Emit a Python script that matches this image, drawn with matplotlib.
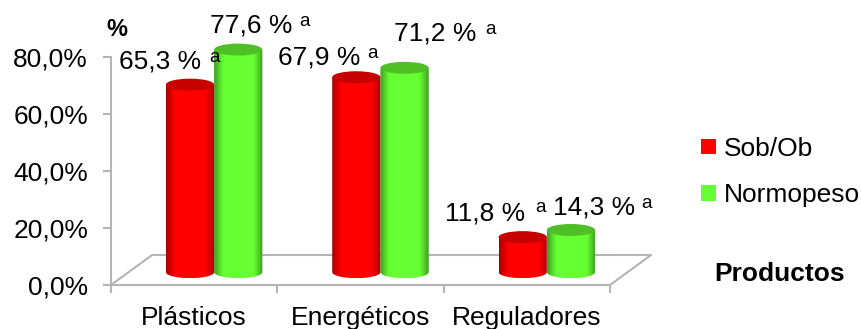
import numpy as np
import matplotlib
matplotlib.use('Agg')
import matplotlib.pyplot as plt
from matplotlib.colors import LinearSegmentedColormap
from matplotlib.patches import Ellipse, Patch, Polygon

plt.rcParams['font.family'] = ['Liberation Sans', 'DejaVu Sans']

W, H = 861, 329

categories = ['Plásticos', 'Energéticos', 'Reguladores']
series_names = ['Sob/Ob', 'Normopeso']
sob_ob = [65.3, 67.9, 11.8]
normopeso = [77.6, 71.2, 14.3]
y_ticks = [0, 20, 40, 60, 80]
y_tick_labels = ['0,0%', '20,0%', '40,0%', '60,0%', '80,0%']
value_labels = ['65,3 %', '67,9 %', '11,8 %', '77,6 %', '71,2 %', '14,3 %']

# left edge / vertical centre of each hand placed value label, in pixels
label_xy = [(119, 62), (278, 57), (445, 214), (210, 26), (394, 33), (553, 207)]
sup_xy = [(214, 57), (372, 53), (540, 208), (305, 22), (490, 29), (647, 203)]

GREY = '#b4b4b4'
FS = 19


def px_fig(x, y):
    return x / W, 1 - y / H


def cylinder(ax, x0, width, base, top, cmap, top_color, zorder):
    """Fake 3D column: gradient body clipped to the outline, plus a top cap"""
    rh = 2.1
    t = np.linspace(np.pi, 2 * np.pi, 40)
    cx = x0 + width / 2
    lower = np.column_stack([cx + width / 2 * np.cos(t), base + rh * np.sin(t)])
    upper = np.array([[x0 + width, top], [x0, top]])
    body = Polygon(np.vstack([lower, upper]), closed=True, fc='none', ec='none',
                   transform=ax.transData, clip_on=False)
    ax.add_patch(body)
    grad = np.abs(np.linspace(-1, 1, 64)).reshape(1, -1) ** 1.5
    im = ax.imshow(grad, extent=(x0, x0 + width, base - rh, top), cmap=cmap,
                   vmin=0, vmax=1, aspect='auto', zorder=zorder, interpolation='bilinear')
    im.set_clip_box(fig.bbox)
    im.set_clip_path(body)
    ax.add_patch(Ellipse((cx, top), width, 2 * rh, fc=top_color, ec='none',
                         zorder=zorder + 0.1, clip_on=False))


fig = plt.figure(figsize=(W / 100, H / 100), dpi=100)
ax = fig.add_axes([111 / W, 1 - 285 / H, (610 - 111) / W, (285 - 57) / H])
ax.patch.set_alpha(0)
ax.set_xlim(0, len(categories))
ax.set_ylim(0, 80)

# floor of the 3D box
depth_x = 41 / 166.3
depth_y = 10.5
n = len(categories)
floor_kw = dict(color=GREY, lw=1.5, clip_on=False, zorder=1, solid_capstyle='round')
ax.plot([0, depth_x], [0, depth_y], **floor_kw)
ax.plot([depth_x, n + depth_x], [depth_y, depth_y], **floor_kw)
ax.plot([n, n + depth_x], [0, depth_y], **floor_kw)

red_map = LinearSegmentedColormap.from_list('r', ['#ff0000', '#ff0000', '#a80000'])
green_map = LinearSegmentedColormap.from_list('g', ['#66ff33', '#66ff33', '#3f9f20'])

bar_w = 0.29
group_pos = np.arange(n) + 0.62
base = 4.5
lift = 5
for i in range(n):
    cylinder(ax, group_pos[i] - bar_w, bar_w, base, sob_ob[i] + lift, red_map, '#c60000', 3)
    cylinder(ax, group_pos[i], bar_w, base, normopeso[i] + lift, green_map, '#4fbf26', 4)
ax.set_xlim(0, n)
ax.set_ylim(0, 80)

for s in ['top', 'right']:
    ax.spines[s].set_visible(False)
for s in ['left', 'bottom']:
    ax.spines[s].set_color(GREY)
    ax.spines[s].set_linewidth(1.5)
ax.set_yticks(y_ticks)
ax.set_yticklabels(y_tick_labels, fontsize=FS, color='black')
ax.set_xticks(range(n + 1))
ax.set_xticklabels([])
ax.set_xticks(np.arange(n) + 0.5, minor=True)
ax.set_xticklabels(categories, minor=True, fontsize=FS)
ax.tick_params(axis='y', color=GREY, width=1.5, length=5.5, pad=11)
ax.tick_params(axis='x', which='major', color=GREY, width=1.5, length=6)
ax.tick_params(axis='x', which='minor', length=0, pad=15)

for text, (x, y) in zip(value_labels, label_xy):
    fx, fy = px_fig(x, y)
    fig.text(fx, fy, text, fontsize=FS, ha='left', va='center')
for x, y in sup_xy:
    fx, fy = px_fig(x, y)
    fig.text(fx, fy, 'a', fontsize=13.5, ha='center', va='center')

fx, fy = px_fig(117, 30)
fig.text(fx, fy, '%', fontsize=17, fontweight='bold', ha='center', va='center')
fx, fy = px_fig(780, 274)
fig.text(fx, fy, 'Productos', fontsize=19, fontweight='bold', ha='center', va='center')

handles = [Patch(fc='#ff0000', ec='none'), Patch(fc='#66ff33', ec='none')]
fig.legend(handles, series_names, loc='center left', bbox_to_anchor=px_fig(701, 172),
           frameon=False, fontsize=FS, handlelength=0.55, handleheight=0.55,
           handletextpad=0.3, labelspacing=0.85, borderaxespad=0, borderpad=0)

fig.savefig('out.png', dpi=100)
